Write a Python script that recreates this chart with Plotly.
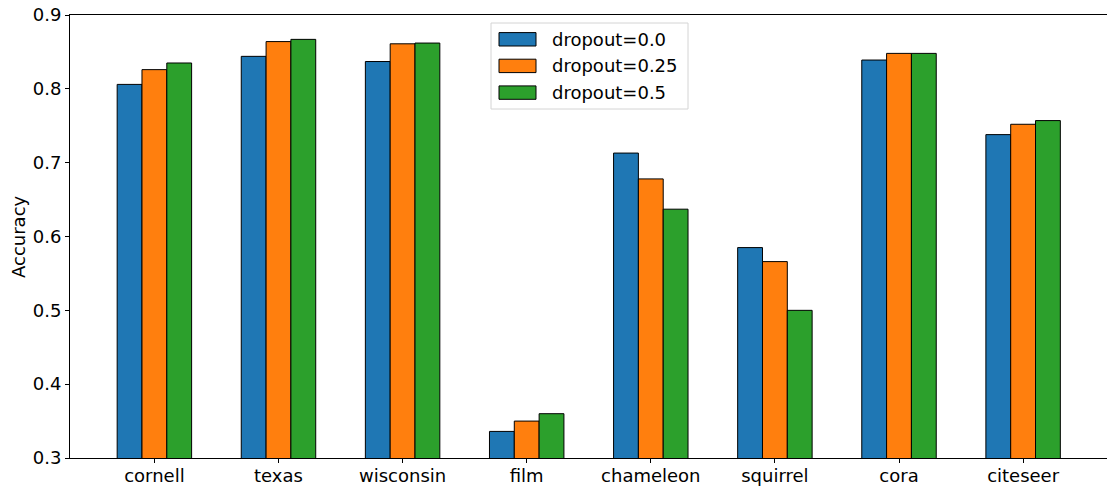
import plotly.graph_objects as go

categories = ["cornell", "texas", "wisconsin", "film", "chameleon", "squirrel", "cora", "citeseer"]
series_names = ["dropout=0.0", "dropout=0.25", "dropout=0.5"]
acc_d00 = [0.806, 0.844, 0.837, 0.336, 0.713, 0.585, 0.839, 0.738]
acc_d025 = [0.826, 0.864, 0.861, 0.350, 0.678, 0.566, 0.848, 0.752]
acc_d05 = [0.835, 0.867, 0.862, 0.360, 0.637, 0.500, 0.848, 0.757]
y_ticks = [0.3, 0.4, 0.5, 0.6, 0.7, 0.8, 0.9]
colors = ["#1f77b4", "#ff7f0e", "#2ca02c"]

W, H = 1107, 486
L, R, T, B = 70, 0, 15, 28
PW, PH = W - L - R, H - T - B
FS = 18

def px_x(px):
    return (px - L) / PW

def px_y(py):
    return (H - B - py) / PH

xs = list(range(len(categories)))
fig = go.Figure()
for name, vals, c in zip(series_names, [acc_d00, acc_d025, acc_d05], colors):
    fig.add_trace(go.Bar(x=xs, y=vals, name=name, marker=dict(color=c, line=dict(color="black", width=1)),
                         showlegend=False, hoverinfo="skip"))

font = "DejaVu Sans"
fig.update_layout(
    width=W, height=H,
    margin=dict(l=L, r=R, t=T, b=B, autoexpand=False),
    paper_bgcolor="white", plot_bgcolor="white",
    barmode="group", bargap=0.4, bargroupgap=0,
    font=dict(family=font, size=FS, color="black"),
    xaxis=dict(range=[-0.68, 7.676], tickvals=xs, ticktext=categories, showline=True, linecolor="black",
               linewidth=1, mirror=True, ticks="outside", ticklen=4, tickcolor="black", showgrid=False,
               zeroline=False, automargin=False, ticklabelstandoff=-3,
               tickfont=dict(size=FS, family=font, color="black")),
    yaxis=dict(range=[0.3, 0.9], tickvals=y_ticks, ticktext=[f"{v:.1f}" for v in y_ticks], showline=True,
               linecolor="black", linewidth=1, ticks="outside", ticklen=4, tickcolor="black",
               showgrid=False, zeroline=False, automargin=False,
               tickfont=dict(size=FS, family=font, color="black")),
)

# y-axis title
fig.add_annotation(text="Accuracy", xref="paper", yref="paper", x=px_x(18.5), y=0.5, textangle=-90,
                   showarrow=False, xanchor="center", yanchor="middle",
                   font=dict(family=font, size=FS, color="black"))

# legend (matplotlib-like)
fig.add_shape(type="rect", xref="paper", yref="paper", x0=px_x(491), x1=px_x(688), y0=px_y(109), y1=px_y(23),
              line=dict(color="#d4d4d4", width=1), fillcolor="rgba(255,255,255,0.8)", layer="above")
row_centers = [39.3, 65.9, 92.6]
for name, c, cy in zip(series_names, colors, row_centers):
    fig.add_shape(type="rect", xref="paper", yref="paper", x0=px_x(499), x1=px_x(536),
                  y0=px_y(cy + 6.7), y1=px_y(cy - 6.7), line=dict(color="black", width=1), fillcolor=c,
                  layer="above")
    fig.add_annotation(text=name, xref="paper", yref="paper", x=px_x(550), y=px_y(cy), showarrow=False,
                       xanchor="left", yanchor="middle", font=dict(family=font, size=FS, color="black"))

fig.write_html("out.html", config={"displayModeBar": False},
               post_script="document.body.style.margin='0';document.body.style.overflow='hidden';")
